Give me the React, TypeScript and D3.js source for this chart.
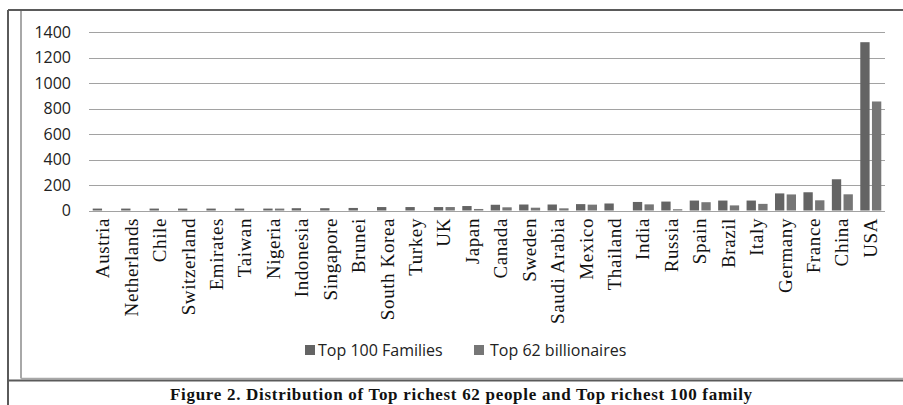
import React from "react";
import * as d3 from "d3";

const categories = [
  "Austria", "Netherlands", "Chile", "Switzerland", "Emirates", "Taiwan", "Nigeria",
  "Indonesia", "Singapore", "Brunei", "South Korea", "Turkey", "UK", "Japan", "Canada",
  "Sweden", "Saudi Arabia", "Mexico", "Thailand", "India", "Russia", "Spain", "Brazil",
  "Italy", "Germany", "France", "China", "USA",
];
const top100Families = [
  15, 15, 15, 15, 15, 15, 15, 18, 18, 20, 27, 27, 27, 35, 45, 47, 47, 50, 55, 67, 70,
  78, 78, 78, 134, 143, 245, 1320,
];
const top62Billionaires = [
  0, 0, 0, 0, 0, 0, 15, 0, 0, 0, 0, 0, 27, 12, 25, 22, 17, 46, 0, 48, 10, 65, 40, 52,
  126, 80, 127, 855,
];
const yTicks = [0, 200, 400, 600, 800, 1000, 1200, 1400];
const seriesNames = ["Top 100 Families", "Top 62 billionaires"];
const seriesColors = ["#646464", "#767676"];

export default function App() {
  const W = 903, H = 405;
  const x = d3.scaleBand<string>().domain(categories).range([89, 885]).padding(0);
  const groupW = 21;
  const xs = d3.scaleBand<string>().domain(["a", "b"]).range([0, groupW]).paddingInner(0.2);
  const y = d3.scaleLinear().domain([0, 1400]).range([210.5, 32]);
  const off = (x.bandwidth() - groupW) / 2;
  const series = [top100Families, top62Billionaires];
  const keys = ["a", "b"];

  return (
    <svg width={W} height={H} style={{ position: "absolute", left: 0, top: 0, background: "#fff" }}>
      {/* frames */}
      <line x1={21} y1={10} x2={21} y2={378.5} stroke="#a8a8a8" strokeWidth={2} />
      <line x1={21} y1={378.5} x2={903} y2={378.5} stroke="#a8a8a8" strokeWidth={1.5} />
      <line x1={8} y1={10} x2={903} y2={10} stroke="#5a5a5a" strokeWidth={2} />
      <line x1={8} y1={10} x2={8} y2={405} stroke="#5a5a5a" strokeWidth={2} />
      <line x1={8} y1={380.5} x2={903} y2={380.5} stroke="#5a5a5a" strokeWidth={2} />

      {/* gridlines */}
      {yTicks.map((t) => (
        <g key={t}>
          <line x1={89} x2={885} y1={Math.round(y(t)) + 0.5} y2={Math.round(y(t)) + 0.5} stroke="#a2a2a2" strokeWidth={1.2} />
          <text x={71} y={y(t)} dy="0.36em" textAnchor="end" fontFamily="'Open Sans', sans-serif" fontSize={16} fill="#222">
            {t}
          </text>
        </g>
      ))}

      {/* bars */}
      {series.map((vals, si) =>
        vals.map((v, i) => {
          if (v <= 0) return null;
          const bx = (x(categories[i]) as number) + off + (xs(keys[si]) as number);
          return (
            <rect
              key={`${si}-${i}`}
              x={bx}
              y={y(v)}
              width={xs.bandwidth()}
              height={y(0) - y(v)}
              fill={seriesColors[si]}
            />
          );
        })
      )}

      {/* category labels */}
      {categories.map((c) => {
        const cx = (x(c) as number) + x.bandwidth() / 2;
        return (
          <text
            key={c}
            transform={`translate(${cx},218) rotate(-90)`}
            dy="0.32em"
            textAnchor="end"
            fontFamily="'Liberation Serif', 'Times New Roman', serif"
            fontSize={19}
            letterSpacing={0.6}
            fill="#111"
          >
            {c}
          </text>
        );
      })}

      {/* legend */}
      <rect x={305} y={345} width={10} height={10} fill={seriesColors[0]} />
      <text x={318} y={356} fontFamily="'Open Sans', sans-serif" fontSize={16} fill="#222">
        {seriesNames[0]}
      </text>
      <rect x={474} y={345} width={10} height={10} fill={seriesColors[1]} />
      <text x={490} y={356} fontFamily="'Open Sans', sans-serif" fontSize={16} fill="#222">
        {seriesNames[1]}
      </text>

      {/* caption */}
      <text x={170} y={400} textAnchor="start" fontFamily="'Liberation Serif', 'Times New Roman', serif" fontWeight="bold" fontSize={17} letterSpacing={0.7} fill="#111">
        Figure 2. Distribution of Top richest 62 people and Top richest 100 family
      </text>
    </svg>
  );
}
